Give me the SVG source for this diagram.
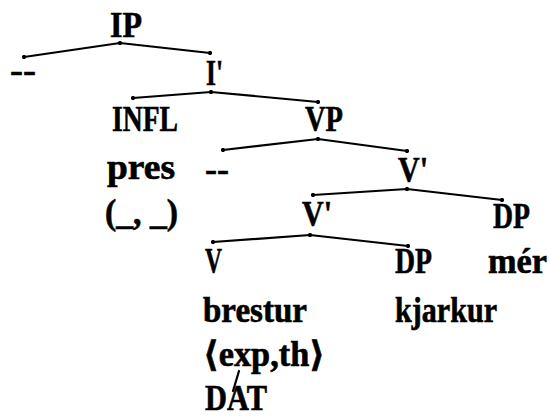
<svg xmlns="http://www.w3.org/2000/svg" width="550" height="418" viewBox="0 0 550 418">
<style>
  .t { font-family: "Liberation Serif", "DejaVu Serif", serif; font-weight: bold; font-size: 35px; fill: #000; stroke: #000; stroke-width: 0.6; }
  .e { fill: none; stroke: #000; stroke-width: 2.2; stroke-linecap: round; stroke-linejoin: round; }
</style>
<defs>
  <marker id="dot" viewBox="0 0 6 6" refX="3" refY="3" markerWidth="4.2" markerHeight="4.2" markerUnits="userSpaceOnUse">
    <circle cx="3" cy="3" r="3" fill="#000"/>
  </marker>
</defs>
<rect width="550" height="418" fill="#fff"/>
<g id="connectors">
  <polyline class="e" points="24,57 120,43 210,53" marker-start="url(#dot)" marker-mid="url(#dot)" marker-end="url(#dot)"/>
  <polyline class="e" points="133,98 211,92 318,102" marker-start="url(#dot)" marker-mid="url(#dot)" marker-end="url(#dot)"/>
  <polyline class="e" points="223,150 318,139 407,151" marker-start="url(#dot)" marker-mid="url(#dot)" marker-end="url(#dot)"/>
  <polyline class="e" points="313,195 407,189 502,200" marker-start="url(#dot)" marker-mid="url(#dot)" marker-end="url(#dot)"/>
  <polyline class="e" points="213,242 310,235 408,246" marker-start="url(#dot)" marker-mid="url(#dot)" marker-end="url(#dot)"/>
  <line class="e" x1="239" y1="371" x2="233" y2="391"/>
</g>
<g id="IP"><text class="t" x="110" y="37" textLength="32" lengthAdjust="spacingAndGlyphs">IP</text></g>
<g id="spec-IP"><text class="t" x="10" y="82" textLength="26" lengthAdjust="spacingAndGlyphs">--</text></g>
<g id="Ibar"><text class="t" x="206" y="85" textLength="17" lengthAdjust="spacingAndGlyphs">I'</text></g>
<g id="INFL"><text class="t" x="112" y="131" textLength="66" lengthAdjust="spacingAndGlyphs">INFL</text></g>
<g id="VP"><text class="t" x="305" y="131" textLength="38" lengthAdjust="spacingAndGlyphs">VP</text></g>
<g id="pres"><text class="t" x="107" y="179" textLength="68" lengthAdjust="spacingAndGlyphs">pres</text></g>
<g id="spec-VP"><text class="t" x="205" y="181" textLength="24" lengthAdjust="spacingAndGlyphs">--</text></g>
<g id="Vbar1"><text class="t" x="398" y="182" textLength="30" lengthAdjust="spacingAndGlyphs">V'</text></g>
<g id="args"><text class="t" x="105" y="224" textLength="73" lengthAdjust="spacingAndGlyphs">(_, _)</text></g>
<g id="Vbar2"><text class="t" x="302" y="226" textLength="30" lengthAdjust="spacingAndGlyphs">V'</text></g>
<g id="DP1"><text class="t" x="493" y="228" textLength="37" lengthAdjust="spacingAndGlyphs">DP</text></g>
<g id="V"><text class="t" x="205" y="273" textLength="17" lengthAdjust="spacingAndGlyphs">V</text></g>
<g id="DP2"><text class="t" x="395" y="273" textLength="37" lengthAdjust="spacingAndGlyphs">DP</text></g>
<g id="mer"><text class="t" x="488" y="273" textLength="59" lengthAdjust="spacingAndGlyphs">mér</text></g>
<g id="brestur"><text class="t" x="203" y="322" textLength="104" lengthAdjust="spacingAndGlyphs">brestur</text></g>
<g id="kjarkur"><text class="t" x="395" y="322" textLength="102" lengthAdjust="spacingAndGlyphs">kjarkur</text></g>
<g id="theta"><text class="t" x="203" y="366" textLength="122" lengthAdjust="spacingAndGlyphs">⟨exp,th⟩</text></g>
<g id="DAT"><text class="t" x="205" y="410" textLength="62" lengthAdjust="spacingAndGlyphs">DAT</text></g>
</svg>
